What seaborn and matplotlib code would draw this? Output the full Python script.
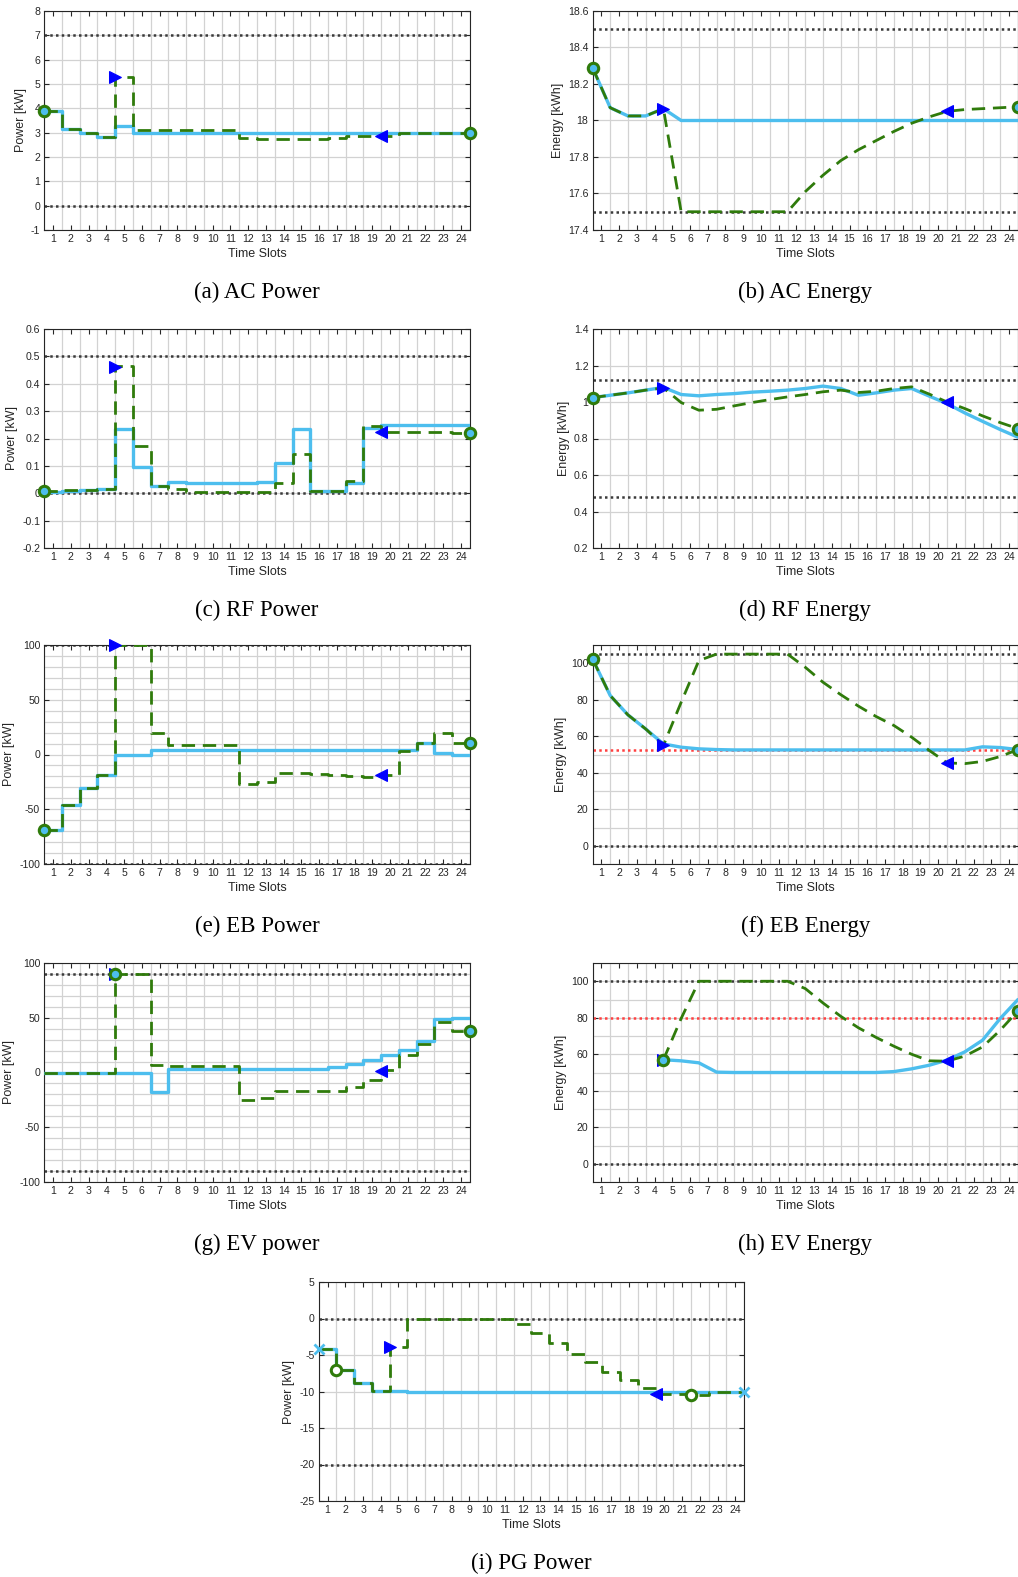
import numpy as np
import pandas as pd
import matplotlib
matplotlib.use("Agg")
import matplotlib.pyplot as plt
import seaborn as sns
from matplotlib.ticker import MultipleLocator, FixedLocator, FuncFormatter

# ---------------- data ----------------
slots = list(range(1, 25))
slot_edges = [s - 0.5 for s in range(1, 26)]          # 0.5 ... 24.5
xtick_labels = [str(s) for s in slots]

ac_power_blue = [3.9, 3.17, 3.0, 2.84, 3.27, 3.0, 3.0, 3.0, 3.0, 3.0, 3.0, 3.0,
                 3.0, 3.0, 3.0, 3.0, 3.0, 3.0, 3.0, 3.0, 3.0, 3.0, 3.0, 3.0]
ac_power_green = [3.9, 3.17, 3.0, 2.84, 5.3, 3.12, 3.12, 3.12, 3.12, 3.12, 3.12, 2.8,
                  2.73, 2.73, 2.74, 2.75, 2.8, 2.85, 2.85, 2.87, 2.97, 2.97, 2.97, 2.97]

ac_energy_blue = [18.29, 18.07, 18.025, 18.025, 18.065, 18.0, 18.0, 18.0, 18.0, 18.0,
                  18.0, 18.0, 18.0, 18.0, 18.0, 18.0, 18.0, 18.0, 18.0, 18.0,
                  18.0, 18.0, 18.0, 18.0, 18.0]
ac_energy_green = [18.29, 18.07, 18.025, 18.025, 18.065, 17.5, 17.5, 17.5, 17.5, 17.5,
                   17.5, 17.5, 17.61, 17.70, 17.78, 17.84, 17.89, 17.94, 17.985, 18.02,
                   18.05, 18.06, 18.065, 18.07, 18.075]

rf_power_blue = [0.005, 0.01, 0.012, 0.016, 0.235, 0.095, 0.027, 0.042, 0.038, 0.038,
                 0.038, 0.038, 0.042, 0.11, 0.235, 0.008, 0.008, 0.037, 0.24, 0.248,
                 0.248, 0.248, 0.248, 0.248]
rf_power_green = [0.007, 0.012, 0.012, 0.017, 0.464, 0.173, 0.028, 0.014, 0.006, 0.006,
                  0.006, 0.006, 0.006, 0.037, 0.144, 0.007, 0.009, 0.044, 0.247, 0.224,
                  0.222, 0.222, 0.222, 0.22]

rf_energy_blue = [1.024, 1.037, 1.05, 1.065, 1.08, 1.041, 1.034, 1.041, 1.046, 1.054,
                  1.059, 1.065, 1.074, 1.087, 1.074, 1.037, 1.05, 1.065, 1.074, 1.032,
                  0.991, 0.94, 0.894, 0.849, 0.807]
rf_energy_green = [1.024, 1.037, 1.05, 1.065, 1.077, 0.997, 0.955, 0.96, 0.979, 0.997,
                   1.013, 1.028, 1.041, 1.056, 1.065, 1.052, 1.059, 1.074, 1.083, 1.043,
                   1.0, 0.964, 0.924, 0.887, 0.854]

eb_power_blue = [-68.7, -46.3, -30.2, -19.0, 0, 0, 4.0, 4.3, 4.3, 4.3, 4.3, 4.3,
                 4.3, 4.3, 4.3, 4.3, 4.3, 4.3, 4.3, 4.3, 4.3, 10.2, 1.7, 0]
eb_power_green = [-68.7, -46.3, -30.2, -19.0, 100, 100, 19.6, 8.4, 8.4, 8.4, 8.4, -27.2,
                  -25, -17, -16.5, -17.5, -18.5, -19.5, -20.5, -18.7, 3.2, 10.5, 19.6, 10.5]

eb_energy_blue = [102.4, 82.3, 71.7, 64.0, 55.8, 54.0, 53.1, 52.7, 52.5, 52.5,
                  52.5, 52.5, 52.5, 52.5, 52.5, 52.5, 52.5, 52.5, 52.5, 52.5,
                  52.5, 52.5, 54.2, 53.8, 52.7]
eb_energy_green = [102.4, 82.3, 71.7, 64.0, 55.0, 78.6, 101.5, 105, 105, 105,
                   105, 105, 97.8, 89.6, 82.8, 76.5, 70.8, 65.9, 59.5, 52.2,
                   45.4, 45.0, 46.2, 48.9, 52.7]

ev_power_blue = [0, 0, 0, 0, 0, 0, -17.4, 3.2, 3.2, 3.2, 3.2, 3.2,
                 3.2, 3.2, 3.2, 3.2, 5.0, 8.0, 11.1, 16.2, 20.5, 29.0, 49.3, 49.6]
ev_power_green = [0, 0, 0, 0, 90, 90, 6.5, 6.2, 6.2, 6.2, 6.2, -25,
                  -23, -17, -17, -17, -16.5, -12.9, -7, 2.3, 16.2, 26.3, 45.7, 38]

ev_energy_x = [s - 0.5 for s in range(5, 26)]          # 4.5 ... 24.5
ev_energy_blue = [57, 56.4, 55.3, 50.2, 50, 50, 50, 50, 50, 50, 50, 50, 50,
                  50.5, 52, 54, 56.8, 61.3, 67.7, 79.6, 90]
ev_energy_green = [57, 79.6, 100, 100, 100, 100, 100, 100, 96, 88.1, 80.8, 74.5, 69.2,
                   64.4, 60, 56.4, 56.2, 59, 64, 73.2, 83.8]

pg_power_blue = [-4.2, -7.0, -8.9, -9.9, -9.9, -10, -10, -10, -10, -10, -10, -10,
                 -10, -10, -10, -10, -10, -10, -10, -10, -10, -10, -10, -10]
pg_power_green = [-4.2, -7.0, -8.9, -9.9, -3.9, 0, 0, 0, 0, 0, 0, -0.8,
                  -2.0, -3.4, -4.8, -6.0, -7.3, -8.4, -9.5, -10.3, -10.3, -10.5, -10.0, -10.0]

# markers: (x, y)
mk_circle = {
    "a": [(0.5, 3.9), (24.5, 2.97)], "b": [(0.5, 18.29), (24.5, 18.075)],
    "c": [(0.5, 0.007), (24.5, 0.22)], "d": [(0.5, 1.024), (24.5, 0.854)],
    "e": [(0.5, -68.7), (24.5, 10.5)], "f": [(0.5, 102.4), (24.5, 52.7)],
    "g": [(4.5, 90), (24.5, 38)], "h": [(4.5, 57), (24.5, 83.8)],
    "i": [(1.5, -7.0), (21.5, -10.5)],
}
mk_right = {
    "a": [(4.5, 5.3)], "b": [(4.5, 18.065)], "c": [(4.5, 0.46)], "d": [(4.5, 1.077)],
    "e": [(4.5, 100)], "f": [(4.5, 55.0)], "g": [(4.5, 90)], "h": [(4.5, 57)],
    "i": [(4.5, -3.9)],
}
mk_left = {
    "a": [(19.5, 2.87)], "b": [(20.5, 18.05)], "c": [(19.5, 0.224)], "d": [(20.5, 1.0)],
    "e": [(19.5, -18.7)], "f": [(20.5, 45.4)], "g": [(19.5, 1.7)], "h": [(20.5, 56.2)],
    "i": [(19.5, -10.3)],
}
mk_cross = {"i": [(0.5, -4.2), (24.5, -10.0)]}

bounds = {"a": [0, 7], "b": [17.5, 18.5], "c": [0, 0.5], "d": [0.48, 1.12],
          "e": [-100, 100], "f": [0, 105], "g": [-90, 90], "h": [0, 100], "i": [-20, 0]}
red_refs = {"f": [52.5], "h": [80]}

captions = {"a": "(a) AC Power", "b": "(b) AC Energy", "c": "(c) RF Power",
            "d": "(d) RF Energy", "e": "(e) EB Power", "f": "(f) EB Energy",
            "g": "(g) EV power", "h": "(h) EV Energy", "i": "(i) PG Power"}
ylabels = {"a": "Power [kW]", "b": "Energy [kWh]", "c": "Power [kW]", "d": "Energy [kWh]",
           "e": "Power [kW]", "f": "Energy [kWh]", "g": "Power [kW]", "h": "Energy [kWh]",
           "i": "Power [kW]"}

# ---------------- style ----------------
sns.set_theme(style="white")
plt.rcParams["font.family"] = ["Liberation Sans", "DejaVu Sans"]
plt.rcParams["axes.unicode_minus"] = False

BLUE = "#4DBEEE"
GREEN = "#2f7b0b"
BOUND = "#3a3a3a"
RED = "#ff4040"
GRID = "#d2d2d2"
TXT = "#262626"

W, H = 1018, 1577
fig = plt.figure(figsize=(W / 100, H / 100), dpi=100)


def rect(l, t, w, h):
    return [l / W, 1 - (t + h) / H, w / W, h / H]


AW, AH = 425.5, 219
LX, RX = 44.3, 592.5
tops = [11, 329, 645, 963, 1282]
layout = {
    "a": (LX, tops[0]), "b": (RX, tops[0]), "c": (LX, tops[1]), "d": (RX, tops[1]),
    "e": (LX, tops[2]), "f": (RX, tops[2]), "g": (LX, tops[3]), "h": (RX, tops[3]),
    "i": (318.7, tops[4]),
}
ylim_cfg = {
    "a": (-1, 8, 1, None), "b": (17.4, 18.6, 0.2, None), "c": (-0.2, 0.6, 0.1, None),
    "d": (0.2, 1.4, 0.2, None), "e": (-100, 100, 50, 10), "f": (-10, 110, 20, 10),
    "g": (-100, 100, 50, 10), "h": (-10, 110, 20, 10), "i": (-25, 5, 5, None),
}
power_series = {"a": (ac_power_blue, ac_power_green), "c": (rf_power_blue, rf_power_green),
                "e": (eb_power_blue, eb_power_green), "g": (ev_power_blue, ev_power_green),
                "i": (pg_power_blue, pg_power_green)}
energy_series = {"b": (slot_edges, ac_energy_blue, ac_energy_green),
                 "d": (slot_edges, rf_energy_blue, rf_energy_green),
                 "f": (slot_edges, eb_energy_blue, eb_energy_green),
                 "h": (ev_energy_x, ev_energy_blue, ev_energy_green)}

fmt = FuncFormatter(lambda v, p: ("%g" % round(v, 6)))


def pts(lst):
    return [p[0] for p in lst], [p[1] for p in lst]


for key, (lx, ty) in layout.items():
    ax = fig.add_axes(rect(lx, ty, AW, AH))
    ymin, ymax, ystep, yminor = ylim_cfg[key]

    # grid
    ax.set_axisbelow(True)
    ax.xaxis.set_major_locator(FixedLocator(slots))
    ax.set_xticklabels(xtick_labels)
    ax.xaxis.set_minor_locator(FixedLocator(slot_edges))
    ax.yaxis.set_major_locator(MultipleLocator(ystep))
    ax.yaxis.set_major_formatter(fmt)
    ax.grid(False)
    ax.xaxis.grid(True, which="minor", color=GRID, lw=0.9)
    ax.yaxis.grid(True, which="major", color=GRID, lw=0.9)
    if yminor:
        ax.yaxis.set_minor_locator(MultipleLocator(yminor))
        ax.yaxis.grid(True, which="minor", color=GRID, lw=0.9)

    # bounds
    for b in bounds[key]:
        ax.axhline(b, color=BOUND, lw=1.8, ls=(0, (1, 1.3)), zorder=2)
    for r in red_refs.get(key, []):
        ax.axhline(r, color=RED, lw=1.8, ls=(0, (1, 1.3)), zorder=2)

    # series
    if key in power_series:
        blue, green = power_series[key]
        df = pd.DataFrame({"x": slot_edges, "blue": blue + [blue[-1]],
                           "green": green + [green[-1]]})
        sns.lineplot(data=df, x="x", y="blue", ax=ax, color=BLUE, lw=2.4,
                     drawstyle="steps-post", estimator=None, zorder=3)
        sns.lineplot(data=df, x="x", y="green", ax=ax, color=GREEN, lw=2.0,
                     drawstyle="steps-post", estimator=None, zorder=4,
                     linestyle=(0, (4.8, 2.8)))
    else:
        xs, blue, green = energy_series[key]
        df = pd.DataFrame({"x": xs, "blue": blue, "green": green})
        sns.lineplot(data=df, x="x", y="blue", ax=ax, color=BLUE, lw=2.4,
                     estimator=None, zorder=3)
        sns.lineplot(data=df, x="x", y="green", ax=ax, color=GREEN, lw=2.0,
                     estimator=None, zorder=4, linestyle=(0, (4.8, 2.8)))

    # markers
    x_, y_ = pts(mk_right[key])
    sns.lineplot(x=x_, y=y_, ax=ax, marker=">", linestyle="none", markersize=9,
                 color="#0000ff", markeredgecolor="#0000ff", zorder=6, clip_on=False,
                 estimator=None)
    x_, y_ = pts(mk_left[key])
    sns.lineplot(x=x_, y=y_, ax=ax, marker="<", linestyle="none", markersize=9,
                 color="#0000ff", markeredgecolor="#0000ff", zorder=6, clip_on=False,
                 estimator=None)
    x_, y_ = pts(mk_circle[key])
    face = "white" if key == "i" else BLUE
    sns.lineplot(x=x_, y=y_, ax=ax, marker="o", linestyle="none", markersize=7.5,
                 markerfacecolor=face, markeredgecolor=GREEN, markeredgewidth=2.2,
                 color=GREEN, zorder=7, clip_on=False, estimator=None)
    if key in mk_cross:
        x_, y_ = pts(mk_cross[key])
        sns.lineplot(x=x_, y=y_, ax=ax, marker="x", linestyle="none", markersize=7,
                     markeredgecolor=BLUE, markeredgewidth=2.0, color=BLUE,
                     zorder=7, clip_on=False, estimator=None)

    ax.set_xlim(0.5, 24.5)
    ax.set_ylim(ymin, ymax)

    ax.tick_params(which="major", direction="in", length=3.5, width=0.8,
                   top=True, right=True, bottom=True, left=True,
                   labelsize=7.6, colors=TXT, pad=3)
    ax.tick_params(which="minor", length=0)
    for s in ax.spines.values():
        s.set_color(TXT)
        s.set_linewidth(0.8)
        s.set_visible(True)

    ax.set_xlabel("Time Slots", fontsize=9, color=TXT, labelpad=3)
    ax.set_ylabel(ylabels[key], fontsize=9, color=TXT, labelpad=3)

    # caption
    cx = (lx + AW / 2) / W
    cy = 1 - (ty + 281) / H
    fig.text(cx, cy, captions[key], ha="center", va="center", fontsize=16.5,
             family=["Liberation Serif", "DejaVu Serif"], color="black")

fig.savefig("out.png", dpi=100)
